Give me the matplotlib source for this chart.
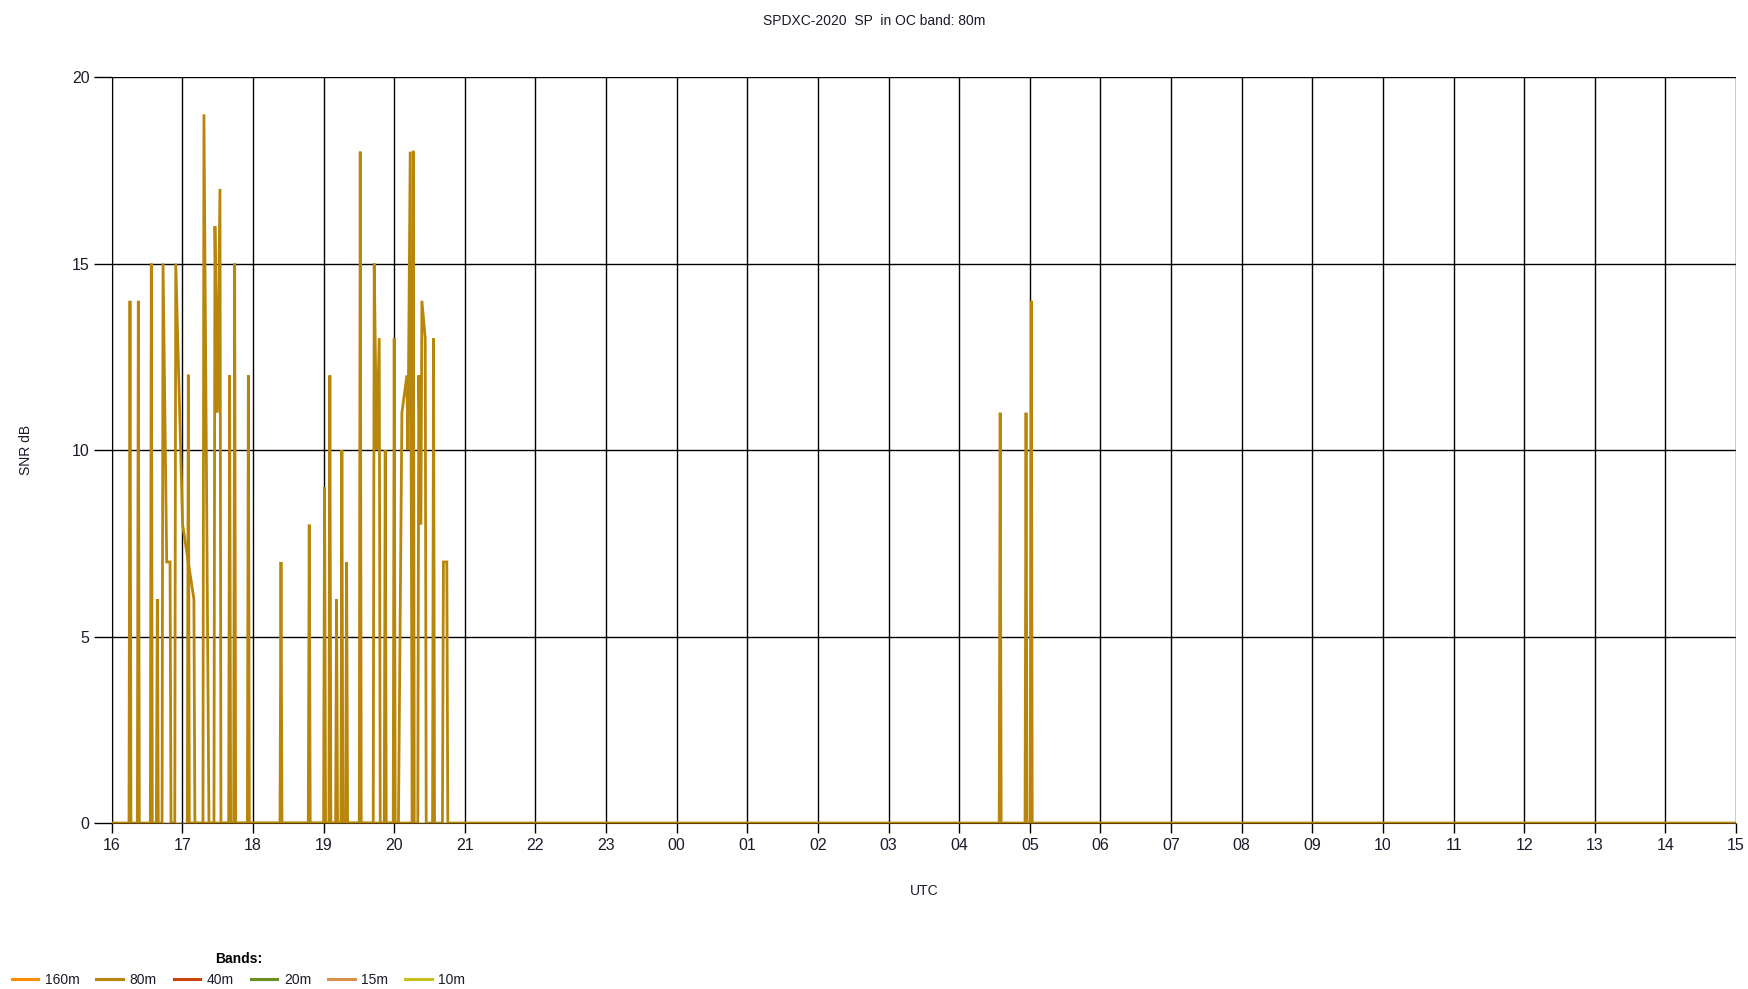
import matplotlib
matplotlib.use("Agg")
import matplotlib.pyplot as plt
from matplotlib.lines import Line2D

plt.rcParams['font.family'] = ['Liberation Sans', 'DejaVu Sans']

# hours since 16:00 UTC, SNR in dB (spots with zero points between them)
t_a = [0.0,
       0.245, 0.259, 0.273,
       0.363, 0.377, 0.391,
       0.547, 0.561, 0.575,
       0.632, 0.646, 0.660,
       0.713, 0.727, 0.779, 0.826, 0.840,
       0.893, 0.907, 1.004, 1.164, 1.178,
       1.292, 1.306, 1.377,
       1.448, 1.462, 1.496, 1.533, 1.547,
       1.656, 1.670, 1.684,
       1.727, 1.741, 1.755,
       1.921, 1.935, 1.949,
       2.383, 2.397, 2.411,
       2.783, 2.797, 2.811,
       3.000, 3.014, 3.028,
       3.075, 3.089, 3.103,
       3.170, 3.184, 3.198,
       3.245, 3.259, 3.273,
       3.312, 3.326, 3.340,
       3.505, 3.519, 3.533,
       3.703, 3.717, 3.751, 3.788, 3.802,
       3.859, 3.873, 3.887,
       3.986, 4.000, 4.014,
       4.060, 4.109, 4.180, 4.194, 4.227, 4.241, 4.255,
       4.334, 4.348, 4.378, 4.392, 4.439, 4.453,
       4.543, 4.557, 4.571,
       4.683, 4.697, 4.745, 4.759,
       12.566, 12.580, 12.594,
       12.932, 12.946, 12.960,
       13.006, 13.020, 13.034,
       23.0]
snr_a = [0,
         0, 14, 0,
         0, 14, 0,
         0, 15, 0,
         0, 6, 0,
         0, 15, 7, 7, 0,
         0, 15, 8, 6, 0,
         0, 19, 0,
         0, 16, 11, 17, 0,
         0, 12, 0,
         0, 15, 0,
         0, 12, 0,
         0, 7, 0,
         0, 8, 0,
         0, 9, 0,
         0, 12, 0,
         0, 6, 0,
         0, 10, 0,
         0, 7, 0,
         0, 18, 0,
         0, 15, 10, 13, 0,
         0, 10, 0,
         0, 13, 0,
         0, 11, 12, 10, 18, 9, 0,
         0, 12, 8, 14, 13, 0,
         0, 13, 0,
         0, 7, 7, 0,
         0, 11, 0,
         0, 11, 0,
         0, 14, 0,
         0]

# second reporter overlapping the first one
t_b = [1.071, 1.085, 1.099,
       4.255, 4.270, 4.284]
snr_b = [0, 12, 0,
         0, 18, 0]

hour_labels = ['16', '17', '18', '19', '20', '21', '22', '23', '00', '01', '02', '03',
               '04', '05', '06', '07', '08', '09', '10', '11', '12', '13', '14', '15']
snr_ticks = [0, 5, 10, 15, 20]

band_names = ['160m', '80m', '40m', '20m', '15m', '10m']
band_colors = ['#FF8C00', '#B8860B', '#C8440A', '#6B8E23', '#D9904F', '#C6C01E']

line_color = band_colors[1]
text_color = '#1b1b2a'

fig = plt.figure(figsize=(17.48, 9.89), dpi=100)
ax = fig.add_axes([0.0639, 0.1678, 0.9293, 0.7543])

ax.plot(t_a, snr_a, color=line_color, lw=2.0, solid_joinstyle='miter', zorder=3)
ax.plot(t_b, snr_b, color=line_color, lw=2.0, zorder=3)

ax.set_xlim(0, len(hour_labels) - 1)
ax.set_ylim(0, 20)
ax.set_xticks(range(len(hour_labels)))
ax.set_xticklabels(hour_labels)
ax.set_yticks(snr_ticks)

ax.grid(True, color='black', lw=1.0, zorder=1)
ax.set_axisbelow(True)
for side in ['top', 'right']:
    ax.spines[side].set_visible(False)
ax.spines['left'].set_color('black')
# dotted zero line on top of the series baseline
ax.spines['bottom'].set_color('#5a4300')
ax.spines['bottom'].set_linestyle((0, (1, 1)))
ax.spines['bottom'].set_linewidth(0.8)
ax.spines['bottom'].set_zorder(4)

ax.tick_params(axis='x', length=7, width=1, pad=4, labelsize=11.5, labelcolor=text_color,
               color='black')
ax.tick_params(axis='y', length=13, width=1, pad=3, labelsize=11.5, labelcolor=text_color)

ax.set_xlabel('UTC', fontsize=10, color=text_color, labelpad=22)
ax.set_ylabel('SNR dB', fontsize=10, color=text_color, labelpad=28)

fig.text(0.5, 0.979, 'SPDXC-2020  SP  in OC band: 80m', ha='center', va='center',
         fontsize=10, color=text_color)

handles = [Line2D([0], [0], color=c, lw=2.2) for c in band_colors]
leg = fig.legend(handles, band_names, loc='lower left', bbox_to_anchor=(0.0067, 0.002),
                 ncol=6, frameon=False, fontsize=10, handlelength=1.92,
                 handletextpad=0.48, columnspacing=1.2, borderaxespad=0, borderpad=0,
                 title='Bands:', title_fontproperties={'weight': 'bold', 'size': 10})
for txt in leg.get_texts():
    txt.set_color(text_color)

fig.savefig('out.png', dpi=100)
